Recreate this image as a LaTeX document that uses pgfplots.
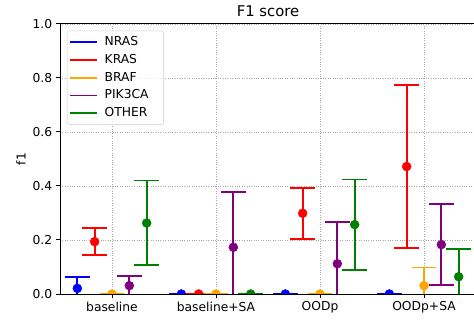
\documentclass[border=0pt]{standalone}
\usepackage{fontspec}
\setmainfont{DejaVu Sans}
\usepackage{pgfplots}
\pgfplotsset{compat=1.18}
\usepackage{pgfplotstable}
\usetikzlibrary{calc}

\definecolor{mblue}{RGB}{0,0,255}
\definecolor{mred}{RGB}{255,0,0}
\definecolor{morange}{RGB}{255,165,0}
\definecolor{mpurple}{RGB}{128,0,128}
\definecolor{mgreen}{RGB}{0,128,0}

% columns: x position, mean f1, error (half height of bar)
\pgfplotstableread{
x y e
-0.3333 0.021 0.043
0.6667 0 0
1.6667 0 0
2.6667 0 0
}\nras
\pgfplotstableread{
x y e
-0.1667 0.194 0.050
0.8333 0 0
1.8333 0.299 0.094
2.8333 0.472 0.301
}\kras
\pgfplotstableread{
x y e
0 0 0
1 0 0
2 0 0
3 0.031 0.067
}\braf
\pgfplotstableread{
x y e
0.1667 0.031 0.037
1.1667 0.173 0.205
2.1667 0.112 0.156
3.1667 0.183 0.150
}\pik
\pgfplotstableread{
x y e
0.3333 0.263 0.157
1.3333 0 0
2.3333 0.257 0.167
3.3333 0.064 0.102
}\other

\newcommand{\tfont}{\fontsize{12.3bp}{14bp}\selectfont}

\pgfplotsset{
  ebar/.style={forget plot, only marks, mark=*, mark size=4.5bp, color=#1, mark options={solid, fill=#1, draw=#1},
    error bars/.cd, y dir=both, y explicit,
    error bar style={line width=1.8bp, #1},
    error mark=-,
    error mark options={rotate=90, #1, line width=1.8bp, mark size=12.3bp},
    /pgfplots/.cd},
}

\begin{document}
\begin{tikzpicture}
\begin{axis}[set layers, name=ax, scale only axis, width=416bp, height=270bp,
  xmin=-0.5, xmax=3.5, ymin=0, ymax=1,
  xtick={0,1,2,3}, xticklabels={baseline, baseline+SA, OODp, OODp+SA},
  ytick={0,0.2,0.4,0.6,0.8,1},
  yticklabel style={/pgf/number format/.cd, fixed, fixed zerofill, precision=1},
  /pgf/number format/assume math mode=true,
  tick label style={font=\tfont},
  tick align=outside, tick pos=left,
  major tick length=4.3bp,
  tick style={black, line width=1bp},
  axis line style={line width=1bp},
  grid=major, grid style={dotted, line width=0.8bp, black!35},
  clip marker paths=true,
  title={F1 score},
  title style={font=\fontsize{14.8bp}{17bp}\selectfont, at={(axis description cs:0.5,1.006)}, anchor=base, inner sep=0},
  ylabel={f1},
  ylabel style={font=\tfont, at={(axis description cs:-0.08245,0.5)}, anchor=base, inner sep=0},
  legend style={at={(axis description cs:0.0168,0.975)}, anchor=north west,
    draw=black!20, fill=white, fill opacity=0.8, text opacity=1, rounded corners=2bp,
    inner xsep=2bp, inner ysep=3.5bp, row sep=2.3bp, column sep=4.7bp, font=\tfont,
    nodes={inner sep=2bp, text height=9bp, text depth=2.5bp}},
  legend cell align=left,
  legend image code/.code={\draw[#1, line width=1.8bp] (0bp,0bp) -- (27bp,0bp);},
]
\addplot[ebar=mblue] table[x=x, y=y, y error=e] {\nras};
\addplot[ebar=mred] table[x=x, y=y, y error=e] {\kras};
\addplot[ebar=morange] table[x=x, y=y, y error=e] {\braf};
\addplot[ebar=mpurple] table[x=x, y=y, y error=e] {\pik};
\addplot[ebar=mgreen] table[x=x, y=y, y error=e] {\other};
\addlegendimage{mblue}\addlegendentry{\makebox[55bp][l]{NRAS}}
\addlegendimage{mred}\addlegendentry{\makebox[55bp][l]{KRAS}}
\addlegendimage{morange}\addlegendentry{\makebox[55bp][l]{BRAF}}
\addlegendimage{mpurple}\addlegendentry{\makebox[55bp][l]{PIK3CA}}
\addlegendimage{mgreen}\addlegendentry{\makebox[55bp][l]{OTHER}}
\end{axis}
\pgfresetboundingbox
\path[use as bounding box] ($(ax.south west)+(-60bp,-26bp)$) rectangle ($(ax.south west)+(414bp,294bp)$);
\end{tikzpicture}
\end{document}
